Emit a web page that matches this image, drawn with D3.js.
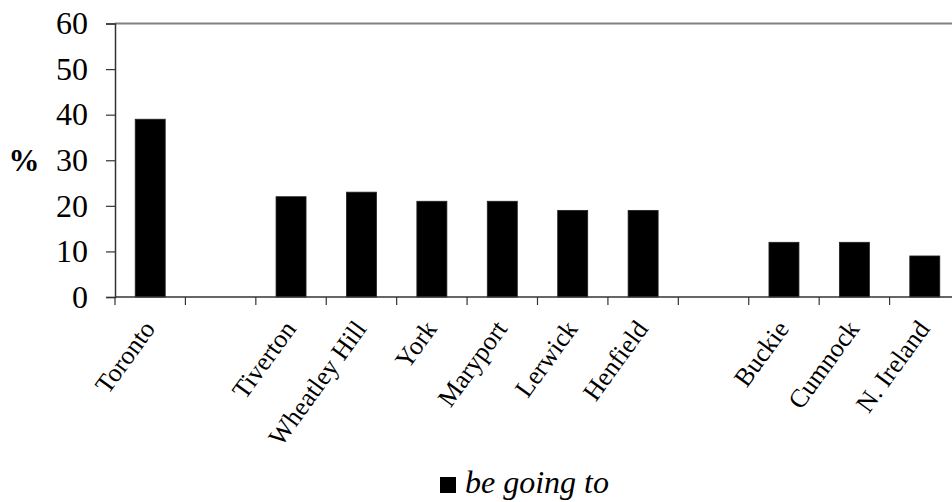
<!DOCTYPE html>
<html lang="en">
<head>
    <meta charset="UTF-8">
    <title>be going to</title>
    <script src="https://cdn.jsdelivr.net/npm/d3@7/dist/d3.min.js"></script>
    <style>
        body { margin: 0; background: #fff; }
        svg { display: block; }
    </style>
</head>
<body>
<script type="text/javascript">
    // data (empty slots are gaps in the chart)
    var categories = ["Toronto", "", "Tiverton", "Wheatley Hill", "York", "Maryport",
        "Lerwick", "Henfield", " ", "Buckie", "Cumnock", "N. Ireland"];
    var values = [39, null, 22, 23, 21, 21, 19, 19, null, 12, 12, 9];
    var yTicks = [0, 10, 20, 30, 40, 50, 60];
    var seriesName = "be going to";

    var width = 952;
    var height = 502;
    var plot = {left: 115, right: 960, top: 23.5, bottom: 297};
    var font = "'Liberation Serif', 'Times New Roman', serif";

    var svg = d3.select("body").append("svg")
            .attr("width", width)
            .attr("height", height);

    var xScale = d3.scaleBand()
            .domain(d3.range(categories.length))
            .range([plot.left, plot.right])
            .paddingInner(0.574)
            .paddingOuter(0.287);
    var xSlot = d3.scaleBand()
            .domain(d3.range(categories.length))
            .range([plot.left, plot.right]);
    var yScale = d3.scaleLinear()
            .domain([0, 60])
            .range([plot.bottom, plot.top]);

    // frame top line
    svg.append("line")
            .attr("x1", plot.left).attr("x2", plot.right)
            .attr("y1", yScale(60)).attr("y2", yScale(60))
            .attr("stroke", "#808080")
            .attr("stroke-width", 2);

    // bars
    var barData = values.map(function (v, i) { return {i: i, v: v}; })
            .filter(function (d) { return d.v !== null; });
    svg.selectAll("rect.bar")
            .data(barData)
            .enter()
            .append("rect")
            .attr("class", "bar")
            .attr("x", function (d) { return xScale(d.i); })
            .attr("y", function (d) { return yScale(d.v); })
            .attr("width", xScale.bandwidth())
            .attr("height", function (d) { return yScale(0) - yScale(d.v); })
            .attr("fill", "#000")
            .attr("stroke", "#222")
            .attr("stroke-width", 0.8);

    // y axis
    var yAxis = d3.axisLeft(yScale)
            .tickValues(yTicks)
            .tickSize(9)
            .tickPadding(18);
    var gy = svg.append("g")
            .attr("transform", "translate(" + plot.left + ",0)")
            .call(yAxis);
    gy.select(".domain").attr("stroke", "#333").attr("stroke-width", 1.5);
    gy.selectAll(".tick line").attr("stroke", "#333").attr("stroke-width", 1.2);
    gy.selectAll(".tick text")
            .attr("font-family", font)
            .attr("font-size", "32px")
            .attr("fill", "#000");

    // x axis line + ticks at slot boundaries
    svg.append("line")
            .attr("x1", plot.left).attr("x2", plot.right)
            .attr("y1", plot.bottom).attr("y2", plot.bottom)
            .attr("stroke", "#333")
            .attr("stroke-width", 1.5);
    var bounds = d3.range(categories.length).map(function (i) { return xSlot(i); });
    svg.selectAll("line.xtick")
            .data(bounds)
            .enter()
            .append("line")
            .attr("class", "xtick")
            .attr("x1", function (d) { return d; })
            .attr("x2", function (d) { return d; })
            .attr("y1", plot.bottom)
            .attr("y2", plot.bottom + 8)
            .attr("stroke", "#333")
            .attr("stroke-width", 1.2);

    // category labels
    svg.selectAll("text.xlabel")
            .data(categories.map(function (c, i) { return {c: c, i: i}; })
                    .filter(function (d) { return d.c.trim() !== ""; }))
            .enter()
            .append("text")
            .attr("class", "xlabel")
            .attr("font-family", font)
            .attr("font-size", "26px")
            .attr("text-anchor", "end")
            .attr("transform", function (d) {
                var cx = xSlot(d.i) + xSlot.bandwidth() / 2;
                return "translate(" + (cx + 6) + "," + (plot.bottom + 32) + ") rotate(-54)";
            })
            .text(function (d) { return d.c; });

    // y title
    svg.append("text")
            .attr("x", 24)
            .attr("y", yScale(30))
            .attr("dy", "0.35em")
            .attr("text-anchor", "middle")
            .attr("font-family", font)
            .attr("font-size", "31px")
            .attr("font-weight", "bold")
            .text("%");

    // legend
    var legend = svg.append("g").attr("transform", "translate(440,477)");
    legend.append("rect")
            .attr("width", 16)
            .attr("height", 16)
            .attr("fill", "#000");
    legend.append("text")
            .attr("x", 25)
            .attr("y", 16)
            .attr("font-family", font)
            .attr("font-size", "32px")
            .attr("font-style", "italic")
            .text(seriesName);
</script>
</body>
</html>
